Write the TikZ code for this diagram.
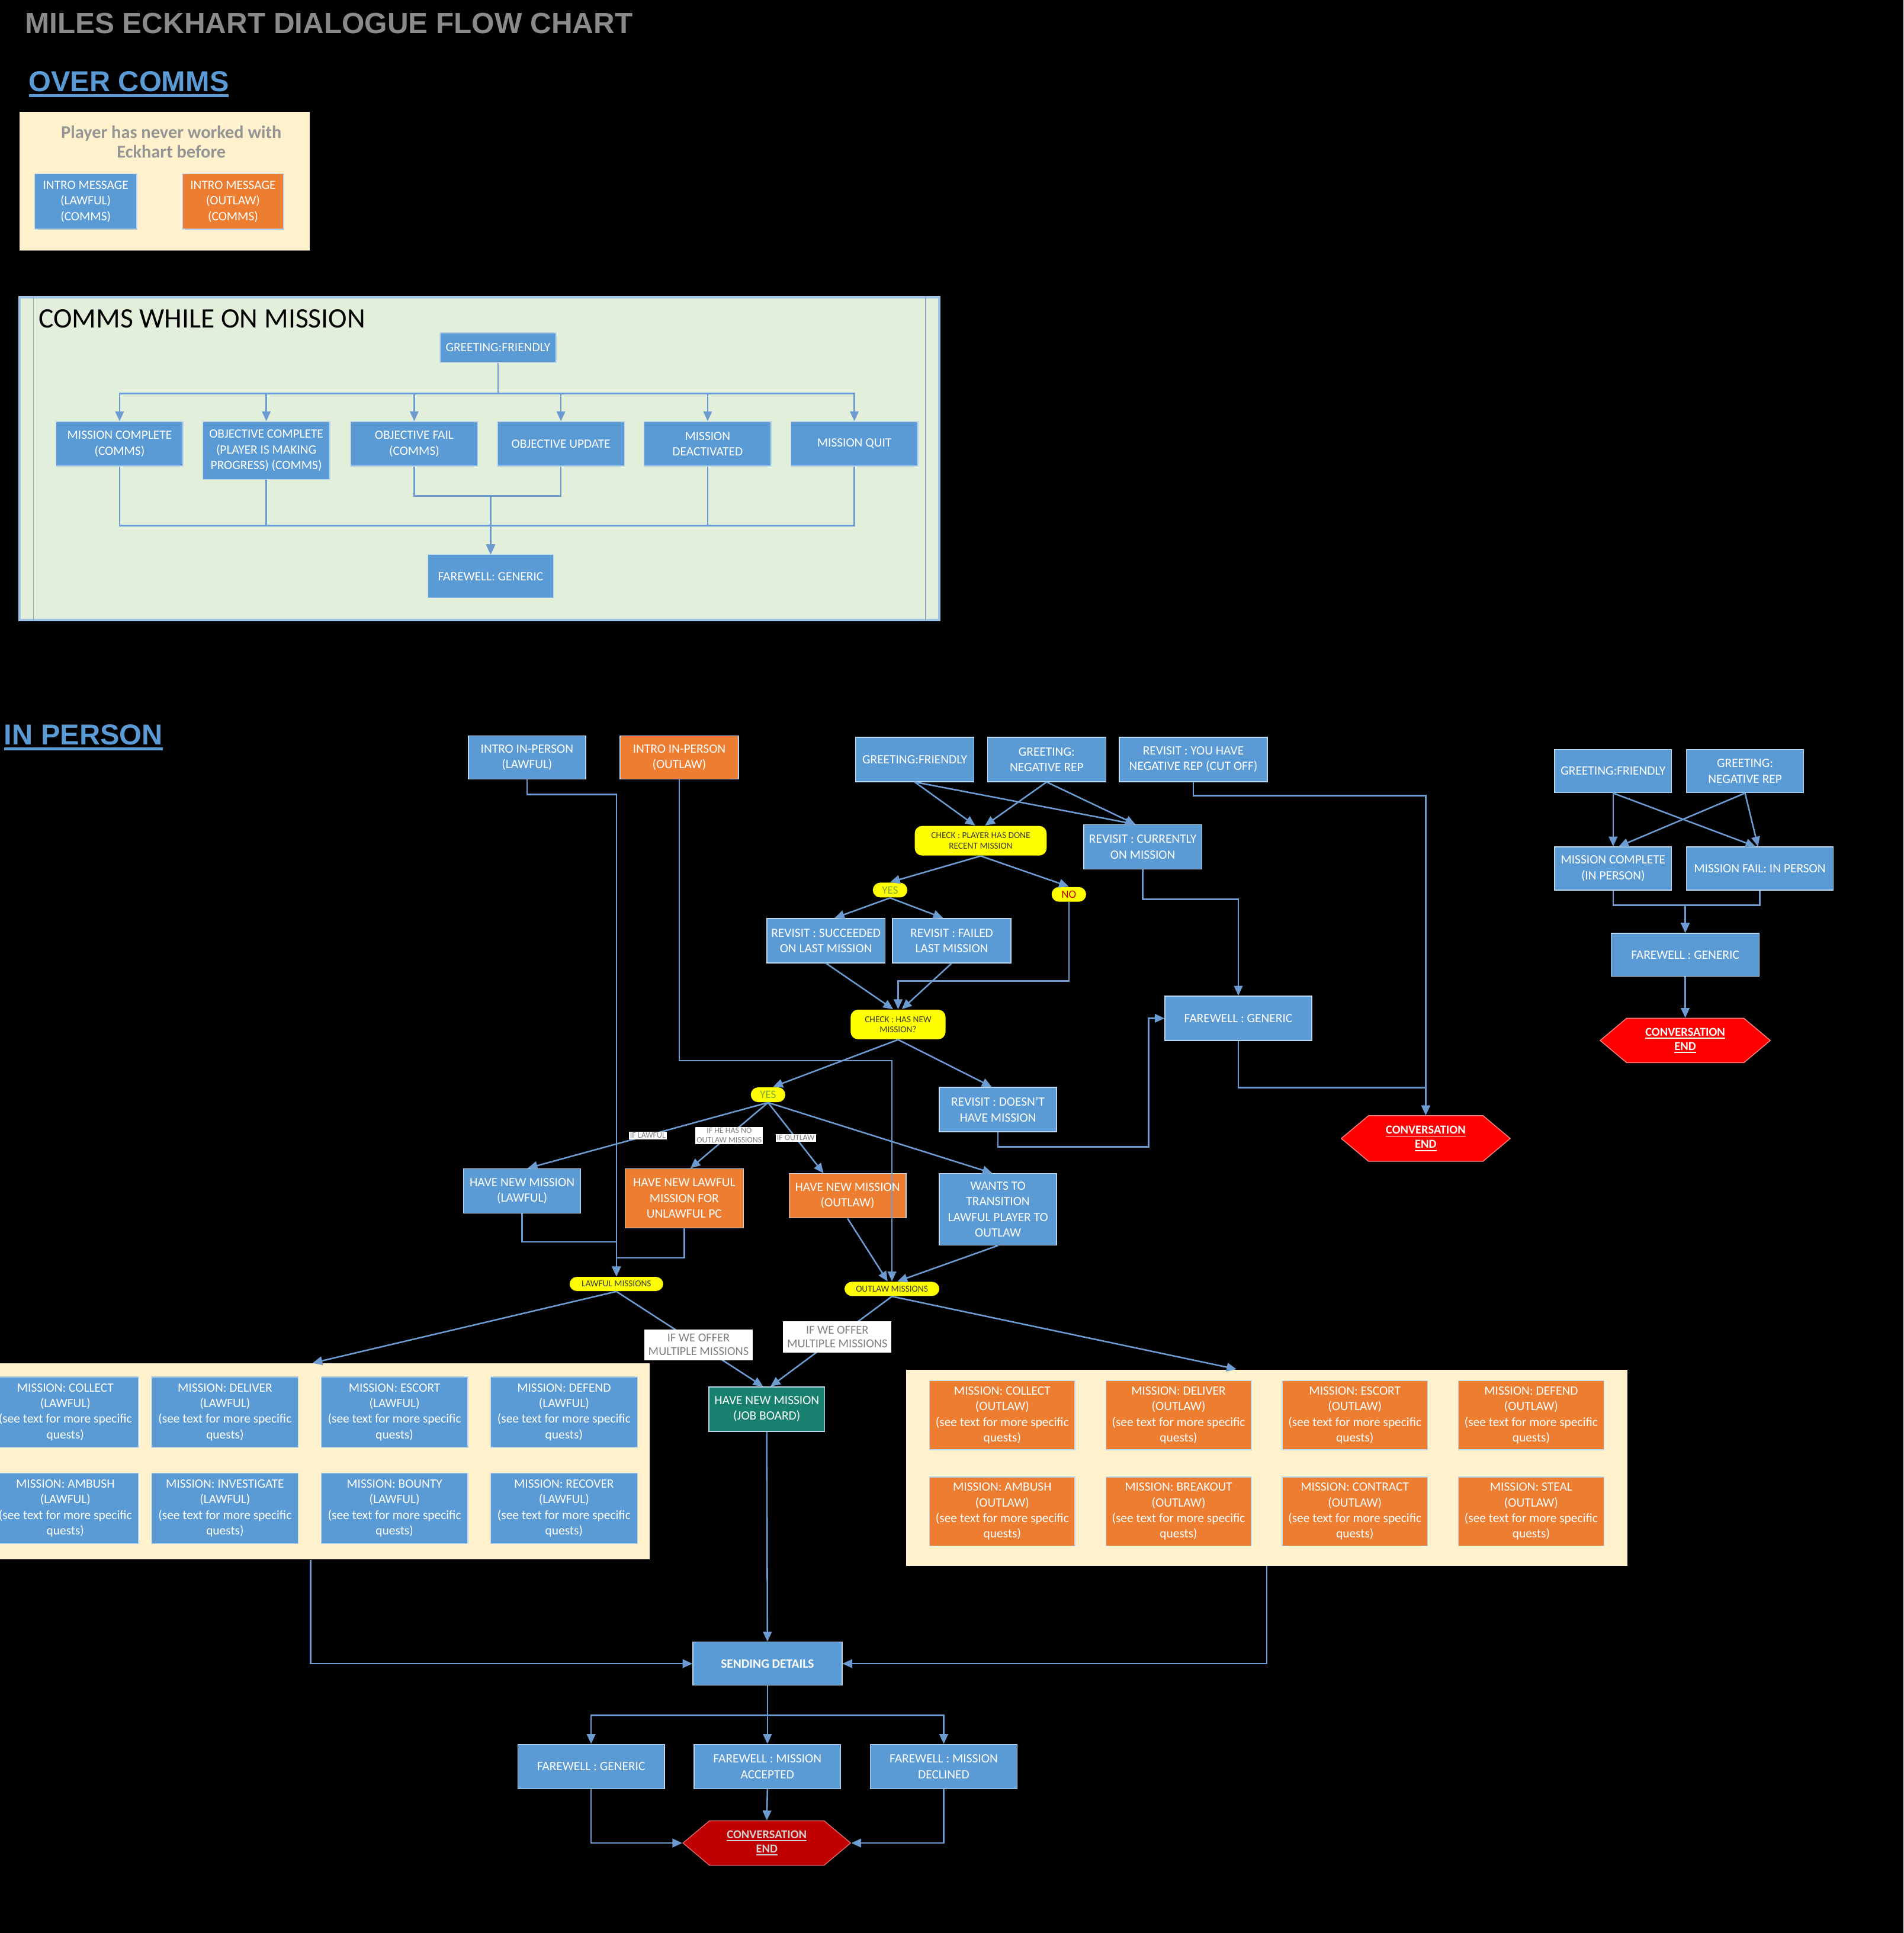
\documentclass[tikz,border=0pt]{standalone}
\usepackage{fontspec}
\setmainfont{Carlito}
\newfontfamily\headfont{Liberation Sans}
\usetikzlibrary{positioning,arrows.meta,shapes.symbols}

\definecolor{boxblue}{HTML}{5B9BD5}
\definecolor{boxedge}{HTML}{BDD7EE}
\definecolor{boxorange}{HTML}{ED7D31}
\definecolor{jobteal}{HTML}{17806F}
\definecolor{checkyellow}{HTML}{FFFF00}
\definecolor{checkink}{HTML}{3A3A3A}
\definecolor{yesgreen}{HTML}{7AAB3A}
\definecolor{nored}{HTML}{C00000}
\definecolor{flowline}{HTML}{6C9BD2}
\definecolor{cream}{HTML}{FFF2CC}
\definecolor{mint}{HTML}{E2EFDA}
\definecolor{panelblue}{HTML}{9DC3E6}
\definecolor{titlegray}{HTML}{8A8A8A}
\definecolor{headblue}{HTML}{5B9BD5}
\definecolor{notegray}{HTML}{959595}
\definecolor{taggray}{HTML}{7F7F7F}
\definecolor{endred}{HTML}{FF0000}
\definecolor{darkend}{HTML}{C00000}

\newsavebox\ulbox
\newcommand\ulinetxt[3][0.5pt]{\sbox\ulbox{#3}\leavevmode\rlap{\rule[-#2]{\wd\ulbox}{#1}}\usebox\ulbox}

\newcommand\boxtxt{\fontsize{5.85}{7.2}\selectfont}
\newcommand\checktxt{\fontsize{4.2}{4.8}\selectfont}
\newcommand\answertxt{\fontsize{5.2}{6}\selectfont}
\newcommand\tagtxt{\fontsize{3.8}{4.3}\selectfont}
\newcommand\offertxt{\fontsize{5.6}{6.4}\selectfont}
\newcommand\stoptxt{\bfseries\fontsize{5.6}{6.6}\selectfont}
\newcommand\titletxt{\headfont\bfseries\fontsize{13.5}{16}\selectfont}
\newcommand\headtxt{\headfont\bfseries\fontsize{13.3}{16}\selectfont}
\newcommand\paneltxt{\fontsize{13}{15}\selectfont}
\newcommand\notetxt{\bfseries\fontsize{8.3}{9}\selectfont}

\tikzstyle{basebox} = [rectangle, draw=boxedge, line width=0.4pt, text=white, align=center, font=\boxtxt, inner sep=1pt]
\tikzstyle{bluebox} = [basebox, fill=boxblue]
\tikzstyle{orangebox} = [basebox, fill=boxorange]
\tikzstyle{jobbox} = [basebox, fill=jobteal]
\tikzstyle{check} = [rectangle, rounded corners=1.2mm, fill=checkyellow, text=checkink, align=center, font=\checktxt, inner sep=0.5pt]
\tikzstyle{answer} = [rectangle, rounded corners=1.2mm, fill=checkyellow, minimum width=5.6mm, minimum height=2.4mm, inner sep=0.3pt, font=\answertxt]
\tikzstyle{tag} = [rectangle, fill=white, text=taggray, align=center, font=\tagtxt, inner sep=0.6pt]
\tikzstyle{offer} = [tag, font=\offertxt, minimum width=17.6mm, minimum height=5mm]
\tikzstyle{endbox} = [signal, signal to=west and east, signal pointer angle=80, fill=endred, draw=endred!50!white, line width=0.4pt, text=white, align=center, font=\stoptxt, inner sep=0pt]
\tikzstyle{panel} = [rectangle, inner sep=0pt]
\tikzstyle{arrow} = [draw=flowline, line width=0.7pt, -{Triangle[length=1.6mm,width=1.4mm]}]

\begin{document}
\begin{tikzpicture}[x=0.2mm, y=-0.2mm, node distance=23.8mm]
	\clip (0,0) rectangle (1544,1568);
	\fill[black] (0,0) rectangle (1544,1568);
	% Headings
	\node[anchor=base west, font=\titletxt, text=titlegray, inner sep=0pt] (title) at (20,27) {MILES ECKHART DIALOGUE FLOW CHART};
	\node[anchor=base west, font=\headtxt, text=headblue, inner sep=0pt] (overcomms) at (23,74) {\ulinetxt[1.2pt]{2.6pt}{OVER COMMS}};
	\node[anchor=base west, font=\headtxt, text=headblue, inner sep=0pt] (inperson) at (3,604) {\ulinetxt[1.2pt]{2.6pt}{IN PERSON}};
	% Over comms
	\node[panel, fill=cream, minimum width=47mm, minimum height=22.4mm] (neverpanel) at (133.5,147) {};
	\node[font=\notetxt, text=notegray, align=center] (nevernote) at (139,115) {Player has never worked with\\Eckhart before};
	\node[bluebox, minimum width=16.6mm, minimum height=9mm] (introcommslawful) at (69.5,163.5) {INTRO MESSAGE\\(LAWFUL)\\(COMMS)};
	\node[orangebox, minimum width=16.4mm, minimum height=9mm] (introcommsoutlaw) at (189,163.5) {INTRO MESSAGE\\(OUTLAW)\\(COMMS)};
	% Comms while on mission
	\node[panel, fill=mint, draw=panelblue, line width=1pt, minimum width=149.2mm, minimum height=52.4mm] (missionpanel) at (389,372) {};
	\draw[panelblue!60!gray, line width=0.4pt] ([xshift=2.4mm]missionpanel.north west) -- ([xshift=2.4mm]missionpanel.south west);
	\draw[panelblue!60!gray, line width=0.4pt] ([xshift=-2.4mm]missionpanel.north east) -- ([xshift=-2.4mm]missionpanel.south east);
	\node[anchor=base west, font=\paneltxt, inner sep=0pt] (panelname) at (31,266) {COMMS WHILE ON MISSION};
	\node[bluebox, minimum width=18.8mm, minimum height=4.8mm] (commsgreet) at (404,282) {GREETING:FRIENDLY};
	\node[bluebox, minimum width=20.6mm, minimum height=7.2mm] (commscomplete) at (97,360) {MISSION COMPLETE\\(COMMS)};
	\node[bluebox, minimum width=20.6mm, minimum height=9.4mm, right of=commscomplete, yshift=-1.1mm] (commsprogress) {OBJECTIVE COMPLETE\\(PLAYER IS MAKING\\PROGRESS) (COMMS)};
	\node[bluebox, minimum width=20.6mm, minimum height=7.2mm] (commsfail) at (336,360) {OBJECTIVE FAIL\\(COMMS)};
	\node[bluebox, minimum width=20.6mm, minimum height=7.2mm, right of=commsfail] (commsupdate) {OBJECTIVE UPDATE};
	\node[bluebox, minimum width=20.6mm, minimum height=7.2mm, right of=commsupdate] (commsdeactivated) {MISSION\\DEACTIVATED};
	\node[bluebox, minimum width=20.6mm, minimum height=7.2mm, right of=commsdeactivated] (commsquit) {MISSION QUIT};
	\node[bluebox, minimum width=20.4mm, minimum height=7mm] (commsbye) at (398,467.5) {FAREWELL: GENERIC};
	% In person
	\node[bluebox, minimum width=19mm, minimum height=7mm] (introlawful) at (427.5,614.5) {INTRO IN-PERSON\\(LAWFUL)};
	\node[orangebox, minimum width=19.2mm, minimum height=7mm] (introoutlaw) at (551,614.5) {INTRO IN-PERSON\\(OUTLAW)};
	\node[bluebox, minimum width=19.2mm, minimum height=7.2mm] (greetfriendly) at (742,616) {GREETING:FRIENDLY};
	\node[bluebox, minimum width=19.2mm, minimum height=7.2mm, right of=greetfriendly, xshift=-2.4mm] (greetnegative) {GREETING:\\NEGATIVE REP};
	\node[bluebox, minimum width=24mm, minimum height=7.2mm] (cutoff) at (968,616) {REVISIT : YOU HAVE\\NEGATIVE REP (CUT OFF)};
	\node[check, minimum width=21.4mm, minimum height=4.8mm] (checkrecent) at (795.5,682) {CHECK : PLAYER HAS DONE\\RECENT MISSION};
	\node[bluebox, minimum width=19.2mm, minimum height=7.2mm] (currently) at (927,687) {REVISIT : CURRENTLY\\ON MISSION};
	\node[answer, text=yesgreen] (yesrecent) at (722,722) {YES};
	\node[answer, text=nored] (norecent) at (867,725.5) {NO};
	\node[bluebox, minimum width=19.2mm, minimum height=7.2mm] (succeeded) at (670,763) {REVISIT : SUCCEEDED\\ON LAST MISSION};
	\node[bluebox, minimum width=19.2mm, minimum height=7.2mm] (failed) at (772,763) {REVISIT : FAILED\\LAST MISSION};
	\node[check, minimum width=15.4mm, minimum height=4.8mm] (checknew) at (728.5,831) {CHECK : HAS NEW\\MISSION?};
	\node[bluebox, minimum width=23.8mm, minimum height=7.2mm] (farewellmid) at (1004.5,826) {FAREWELL : GENERIC};
	\node[endbox, minimum width=27.4mm, minimum height=7.4mm] (convendmid) at (1156.5,923.5) {\ulinetxt{1.3pt}{CONVERSATION}\\\ulinetxt{1.3pt}{END}};
	\node[answer, text=yesgreen] (yesnew) at (623,888) {YES};
	\node[bluebox, minimum width=19mm, minimum height=7.2mm] (doesnt) at (809.5,900) {REVISIT : DOESN'T\\HAVE MISSION};
	\node[bluebox, minimum width=19mm, minimum height=7.2mm] (newlawful) at (423.5,966) {HAVE NEW MISSION\\(LAWFUL)};
	\node[orangebox, minimum width=19.2mm, minimum height=9.6mm] (newunlawful) at (555,972) {HAVE NEW LAWFUL\\MISSION FOR\\UNLAWFUL PC};
	\node[orangebox, minimum width=19mm, minimum height=7.2mm] (newoutlaw) at (687.5,970) {HAVE NEW MISSION\\(OUTLAW)};
	\node[bluebox, minimum width=19mm, minimum height=11.6mm] (transition) at (809.5,981) {WANTS TO\\TRANSITION\\LAWFUL PLAYER TO\\OUTLAW};
	\node[check, minimum width=15.2mm, minimum height=2.3mm] (lawfulmissions) at (500,1041.5) {LAWFUL MISSIONS};
	\node[check, minimum width=15.4mm, minimum height=2.3mm] (outlawmissions) at (723.5,1045.5) {OUTLAW MISSIONS};
	\node[jobbox, minimum width=18.8mm, minimum height=7.2mm] (jobboard) at (622,1143) {HAVE NEW MISSION\\(JOB BOARD)};
	% Lawful missions
	\node[panel, fill=cream, minimum width=109.4mm, minimum height=31.8mm] (lawfulpanel) at (253.5,1185.5) {};
	\node[bluebox, minimum width=23.8mm, minimum height=11.4mm] (lawcollect) at (53,1145.5) {MISSION: COLLECT\\(LAWFUL)\\(see text for more specific\\quests)};
	\node[bluebox, minimum width=23.8mm, minimum height=11.4mm, right of=lawcollect, xshift=2.1mm] (lawdeliver) {MISSION: DELIVER\\(LAWFUL)\\(see text for more specific\\quests)};
	\node[bluebox, minimum width=23.8mm, minimum height=11.4mm, right of=lawdeliver, xshift=3.7mm] (lawescort) {MISSION: ESCORT\\(LAWFUL)\\(see text for more specific\\quests)};
	\node[bluebox, minimum width=23.8mm, minimum height=11.4mm, right of=lawescort, xshift=3.7mm] (lawdefend) {MISSION: DEFEND\\(LAWFUL)\\(see text for more specific\\quests)};
	\node[bluebox, minimum width=23.8mm, minimum height=11.4mm, below of=lawcollect, yshift=8.2mm] (lawambush) {MISSION: AMBUSH\\(LAWFUL)\\(see text for more specific\\quests)};
	\node[bluebox, minimum width=23.8mm, minimum height=11.4mm, right of=lawambush, xshift=2.1mm] (lawinvestigate) {MISSION: INVESTIGATE\\(LAWFUL)\\(see text for more specific\\quests)};
	\node[bluebox, minimum width=23.8mm, minimum height=11.4mm, right of=lawinvestigate, xshift=3.7mm] (lawbounty) {MISSION: BOUNTY\\(LAWFUL)\\(see text for more specific\\quests)};
	\node[bluebox, minimum width=23.8mm, minimum height=11.4mm, right of=lawbounty, xshift=3.7mm] (lawrecover) {MISSION: RECOVER\\(LAWFUL)\\(see text for more specific\\quests)};
	% Outlaw missions
	\node[panel, fill=cream, minimum width=117mm, minimum height=31.8mm] (outlawpanel) at (1027.5,1190.5) {};
	\node[orangebox, minimum width=23.6mm, minimum height=11.2mm] (outcollect) at (813,1148) {MISSION: COLLECT\\(OUTLAW)\\(see text for more specific\\quests)};
	\node[orangebox, minimum width=23.6mm, minimum height=11.2mm, right of=outcollect, xshift=4.8mm] (outdeliver) {MISSION: DELIVER\\(OUTLAW)\\(see text for more specific\\quests)};
	\node[orangebox, minimum width=23.6mm, minimum height=11.2mm, right of=outdeliver, xshift=4.8mm] (outescort) {MISSION: ESCORT\\(OUTLAW)\\(see text for more specific\\quests)};
	\node[orangebox, minimum width=23.6mm, minimum height=11.2mm, right of=outescort, xshift=4.8mm] (outdefend) {MISSION: DEFEND\\(OUTLAW)\\(see text for more specific\\quests)};
	\node[orangebox, minimum width=23.6mm, minimum height=11.2mm, below of=outcollect, yshift=8.2mm] (outambush) {MISSION: AMBUSH\\(OUTLAW)\\(see text for more specific\\quests)};
	\node[orangebox, minimum width=23.6mm, minimum height=11.2mm, right of=outambush, xshift=4.8mm] (outbreakout) {MISSION: BREAKOUT\\(OUTLAW)\\(see text for more specific\\quests)};
	\node[orangebox, minimum width=23.6mm, minimum height=11.2mm, right of=outbreakout, xshift=4.8mm] (outcontract) {MISSION: CONTRACT\\(OUTLAW)\\(see text for more specific\\quests)};
	\node[orangebox, minimum width=23.6mm, minimum height=11.2mm, right of=outcontract, xshift=4.8mm] (outsteal) {MISSION: STEAL\\(OUTLAW)\\(see text for more specific\\quests)};
	% Sending and farewells
	\node[bluebox, font=\boxtxt\bfseries, minimum width=24.2mm, minimum height=7mm] (sending) at (622.5,1349.5) {SENDING DETAILS};
	\node[bluebox, minimum width=23.8mm, minimum height=7.2mm] (byegeneric) at (479.5,1433) {FAREWELL : GENERIC};
	\node[bluebox, minimum width=23.8mm, minimum height=7.2mm] (byeaccepted) at (622.5,1433) {FAREWELL : MISSION\\ACCEPTED};
	\node[bluebox, minimum width=23.8mm, minimum height=7.2mm] (byedeclined) at (765.5,1433) {FAREWELL : MISSION\\DECLINED};
	\node[endbox, fill=darkend, draw=darkend!60!white, text=white!82!black, minimum width=27.2mm, minimum height=7.2mm] (convendlow) at (622,1495) {\ulinetxt{1.3pt}{CONVERSATION}\\\ulinetxt{1.3pt}{END}};
	% Right side
	\node[bluebox, minimum width=19mm, minimum height=7mm] (rgreetfriendly) at (1308.5,625.5) {GREETING:FRIENDLY};
	\node[bluebox, minimum width=19mm, minimum height=7mm] (rgreetnegative) at (1415.5,625.5) {GREETING:\\NEGATIVE REP};
	\node[bluebox, minimum width=19mm, minimum height=7mm] (rcomplete) at (1308.5,704.5) {MISSION COMPLETE\\(IN PERSON)};
	\node[bluebox, minimum width=23.8mm, minimum height=7mm] (rfail) at (1427.5,704.5) {MISSION FAIL: IN PERSON};
	\node[bluebox, minimum width=24mm, minimum height=7mm] (rfarewell) at (1367,774.5) {FAREWELL : GENERIC};
	\node[endbox, minimum width=27.6mm, minimum height=7.2mm] (rconvend) at (1367,844) {\ulinetxt{1.3pt}{CONVERSATION}\\\ulinetxt{1.3pt}{END}};
	% Draw edges: comms while on mission
	\draw[arrow] (commsgreet.south) -- ++(0,25) -| (commscomplete.north);
	\draw[arrow] (commsgreet.south) -- ++(0,25) -| (commsprogress.north);
	\draw[arrow] (commsgreet.south) -- ++(0,25) -| (commsfail.north);
	\draw[arrow] (commsgreet.south) -- ++(0,25) -| (commsupdate.north);
	\draw[arrow] (commsgreet.south) -- ++(0,25) -| (commsdeactivated.north);
	\draw[arrow] (commsgreet.south) -- ++(0,25) -| (commsquit.north);
	\draw[arrow] (commscomplete.south) -- ++(0,48) -| (commsbye.north);
	\draw[arrow] (commsprogress.south) -- ++(0,37) -| (commsbye.north);
	\draw[arrow] (commsfail.south) -- ++(0,24) -| (commsbye.north);
	\draw[arrow] (commsupdate.south) -- ++(0,24) -| (commsbye.north);
	\draw[arrow] (commsdeactivated.south) -- ++(0,48) -| (commsbye.north);
	\draw[arrow] (commsquit.south) -- ++(0,48) -| (commsbye.north);
	% Draw edges: in person
	\draw[arrow] (greetfriendly.south) -- ([xshift=-0.9mm]checkrecent.north);
	\draw[arrow] (greetfriendly.south) -- ([xshift=-1.2mm]currently.north);
	\draw[arrow] (greetnegative.south) -- ([xshift=0.7mm]checkrecent.north);
	\draw[arrow] (greetnegative.south) -- ([xshift=-1.2mm]currently.north);
	\draw[arrow] (cutoff.south) -- ++(0,11) -| (convendmid.north);
	\draw[arrow] (checkrecent.south) -- (yesrecent.north);
	\draw[arrow] (checkrecent.south) -- (norecent.north);
	\draw[arrow] (yesrecent.south) -- ([xshift=1.4mm]succeeded.north);
	\draw[arrow] (yesrecent.south) -- ([xshift=-1.4mm]failed.north);
	\draw[arrow] (succeeded.south) -- ([xshift=-0.8mm]checknew.north);
	\draw[arrow] (failed.south) -- ([xshift=0.6mm]checknew.north);
	\draw[arrow] (norecent.south) -- ++(0,64) -| (checknew.north);
	\draw[arrow] (currently.south) -- ++(0,24) -| (farewellmid.north);
	\draw[arrow] (farewellmid.south) -- ++(0,38) -| (convendmid.north);
	\draw[arrow] (checknew.south) -- ([xshift=0.8mm]yesnew.north);
	\draw[arrow] (checknew.south) -- ([xshift=-1mm]doesnt.north);
	\draw[arrow] (doesnt.south) -- ++(0,12) -| ([xshift=-2.6mm]farewellmid.west) -- (farewellmid.west);
	\draw[arrow] (yesnew.south) -- node[tag] (iflawful) {IF LAWFUL} ([xshift=0.9mm]newlawful.north);
	\draw[arrow] (yesnew.south) -- node[tag] (ifnooutlaw) {IF HE HAS NO\\OUTLAW MISSIONS} ([xshift=1mm]newunlawful.north);
	\draw[arrow] (yesnew.south) -- node[tag] (ifoutlaw) {IF OUTLAW} ([xshift=-3.9mm]newoutlaw.north);
	\draw[arrow] (yesnew.south) -- ([xshift=-0.9mm]transition.north);
	\draw[arrow] (introlawful.south) -- ++(0,12) -| (lawfulmissions.north);
	\draw[arrow] (introoutlaw.south) -- ++(0,228) -| (outlawmissions.north);
	\draw[arrow] (newlawful.south) -- ++(0,23) -| (lawfulmissions.north);
	\draw[arrow] (newunlawful.south) -- ++(0,24) -| (lawfulmissions.north);
	\draw[arrow] (newoutlaw.south) -- ([xshift=-0.7mm]outlawmissions.north);
	\draw[arrow] (transition.south) -- ([xshift=0.9mm]outlawmissions.north);
	\draw[arrow] (lawfulmissions.south) -- (lawfulpanel.north);
	\draw[arrow] (lawfulmissions.south) -- node[offer, pos=0.56] (offerlawful) {IF WE OFFER\\MULTIPLE MISSIONS} ([xshift=-0.6mm]jobboard.north);
	\draw[arrow] (outlawmissions.south) -- node[offer, pos=0.45] (offeroutlaw) {IF WE OFFER\\MULTIPLE MISSIONS} ([xshift=0.6mm]jobboard.north);
	\draw[arrow] (outlawmissions.south) -- ([xshift=-4.9mm]outlawpanel.north);
	\draw[arrow] (jobboard.south) -- (sending.north);
	\draw[arrow] ([xshift=-0.3mm]lawfulpanel.south) |- (sending.west);
	\draw[arrow] (outlawpanel.south) |- (sending.east);
	\draw[arrow] (sending.south) -- ++(0,24) -| (byegeneric.north);
	\draw[arrow] (sending.south) -- (byeaccepted.north);
	\draw[arrow] (sending.south) -- ++(0,24) -| (byedeclined.north);
	\draw[arrow] (byegeneric.south) |- (convendlow.west);
	\draw[arrow] (byeaccepted.south) -- (convendlow.north);
	\draw[arrow] (byedeclined.south) |- (convendlow.east);
	% Draw edges: right side
	\draw[arrow] (rgreetfriendly.south) -- (rcomplete.north);
	\draw[arrow] (rgreetfriendly.south) -- ([xshift=-0.7mm]rfail.north);
	\draw[arrow] (rgreetnegative.south) -- ([xshift=0.9mm]rcomplete.north);
	\draw[arrow] (rgreetnegative.south) -- ([xshift=-0.3mm]rfail.north);
	\draw[arrow] (rcomplete.south) -- ++(0,12) -| (rfarewell.north);
	\draw[arrow] (rfail.south) -- ++(0,12) -| (rfarewell.north);
	\draw[arrow] (rfarewell.south) -- (rconvend.north);
\end{tikzpicture}
\end{document}
